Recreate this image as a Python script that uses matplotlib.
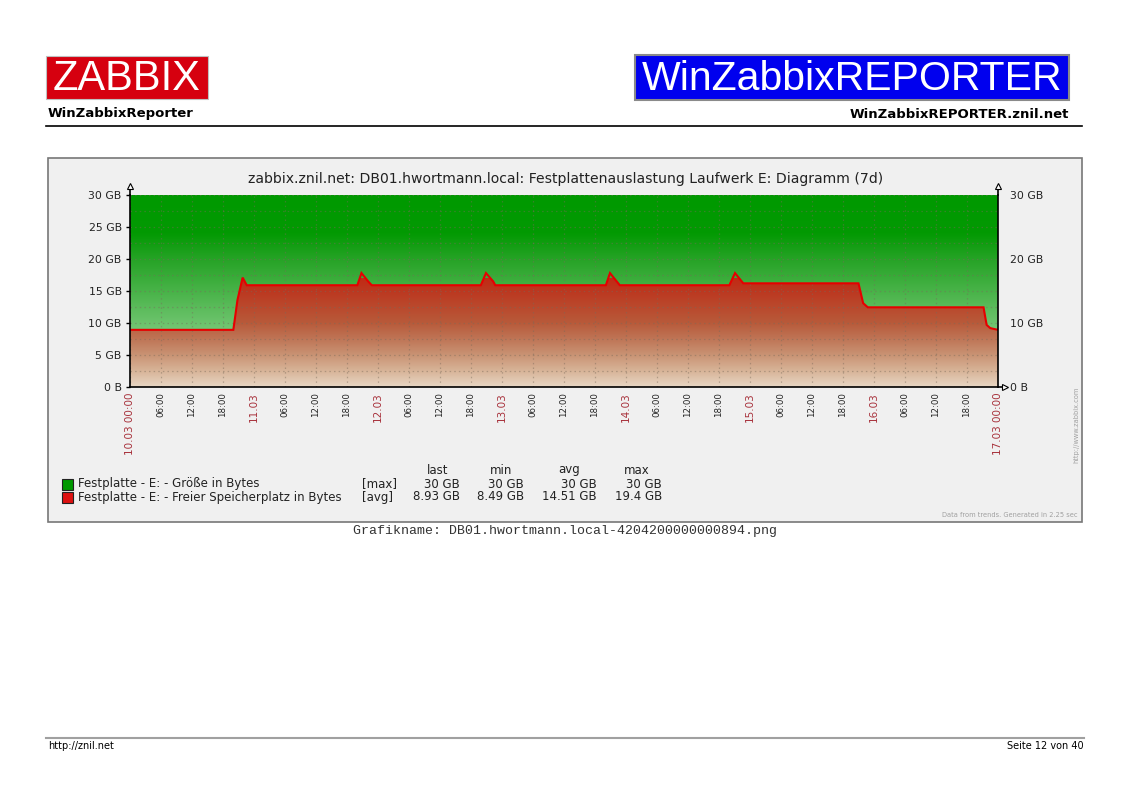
import numpy as np
import matplotlib
matplotlib.use("Agg")
import matplotlib.pyplot as plt
from matplotlib.colors import LinearSegmentedColormap
from matplotlib.patches import Rectangle
from matplotlib.ticker import MultipleLocator

# --- DATA ---
# hours since 10.03 00:00, values in GB
size_hours = [0, 168]
size_gb = [30, 30]

free_hours = [0, 20.0, 20.8, 21.8, 22.6,
              44.0, 44.8, 46.1, 46.8,
              67.9, 68.9, 70.3, 70.7,
              92.1, 92.9, 94.2, 94.8,
              116.0, 117.1, 118.7,
              141.0, 141.9, 142.8,
              165.2, 165.8, 166.5, 168]
free_gb = [8.93, 8.93, 13.6, 17.1, 15.9,
           15.9, 17.8, 16.5, 15.9,
           15.9, 17.8, 16.5, 15.9,
           15.9, 17.8, 16.5, 15.9,
           15.9, 17.8, 16.2,
           16.2, 13.1, 12.45,
           12.45, 9.7, 9.2, 8.93]

day_labels = ["10.03", "11.03", "12.03", "13.03", "14.03", "15.03", "16.03", "17.03"]
hour_labels = ["00:00", "06:00", "12:00", "18:00"]

y_left_ticks = [0, 5, 10, 15, 20, 25, 30]
y_left_labels = ["0 B", "5 GB", "10 GB", "15 GB", "20 GB", "25 GB", "30 GB"]
y_right_ticks = [0, 10, 20, 30]
y_right_labels = ["0 B", "10 GB", "20 GB", "30 GB"]

legend_names = ["Festplatte - E: - Größe in Bytes",
                "Festplatte - E: - Freier Speicherplatz in Bytes"]
legend_func = ["[max]", "[avg]"]
legend_colors = ["#009900", "#dd1111"]
legend_headers = ["last", "min", "avg", "max"]
legend_last = ["30 GB", "8.93 GB"]
legend_min = ["30 GB", "8.49 GB"]
legend_avg = ["30 GB", "14.51 GB"]
legend_max = ["30 GB", "19.4 GB"]

title = "zabbix.znil.net: DB01.hwortmann.local: Festplattenauslastung Laufwerk E: Diagramm (7d)"
graph_name = "Grafikname: DB01.hwortmann.local-4204200000000894.png"

W, H = 1130, 800
fig = plt.figure(figsize=(W / 100, H / 100), dpi=100)
fig.patch.set_facecolor("white")

# page decoration axes in pixel coordinates
bg = fig.add_axes([0, 0, 1, 1])
bg.set_xlim(0, W)
bg.set_ylim(H, 0)
bg.axis("off")

# header
bg.add_patch(Rectangle((46, 56), 162, 43, facecolor="#d6000f", edgecolor="#c0c0c0", lw=0.8))
bg.text(127, 78.5, "ZABBIX", color="white", fontsize=30, family="Liberation Sans",
        ha="center", va="center")
bg.add_patch(Rectangle((635, 55), 434, 45, facecolor="#0000ee", edgecolor="#8a8a8a", lw=1.5))
bg.text(852, 78.5, "WinZabbixREPORTER", color="white", fontsize=29.5, family="Liberation Sans",
        ha="center", va="center")
bg.text(48, 114, "WinZabbixReporter", fontsize=9.5, fontweight="bold", ha="left", va="center")
bg.text(1069, 114, "WinZabbixREPORTER.znil.net", fontsize=9.5, fontweight="bold",
        ha="right", va="center")
bg.plot([46, 1082], [125.5, 125.5], color="black", lw=1.2)

# chart panel
bg.add_patch(Rectangle((48, 158), 1034, 364, facecolor="#f0f0f0", edgecolor="#777777", lw=1.2))
bg.text(566, 179, title, fontsize=10.1, color="#222222", ha="center", va="center")

# legend
row_y = [484, 497]
fs = 8.5
bg.text(448, 470, legend_headers[0], fontsize=fs, ha="right", va="center", color="#222222")
bg.text(512, 470, legend_headers[1], fontsize=fs, ha="right", va="center", color="#222222")
bg.text(580, 470, legend_headers[2], fontsize=fs, ha="right", va="center", color="#222222")
bg.text(650, 470, legend_headers[3], fontsize=fs, ha="right", va="center", color="#222222")
for i in range(2):
    y = row_y[i]
    bg.add_patch(Rectangle((62, y - 5.5), 11, 11, facecolor=legend_colors[i],
                           edgecolor="#222222", lw=0.8))
    bg.text(78, y, legend_names[i], fontsize=fs, ha="left", va="center", color="#222222")
    bg.text(362, y, legend_func[i], fontsize=fs, ha="left", va="center", color="#222222")
    bg.text(460, y, legend_last[i], fontsize=fs, ha="right", va="center", color="#222222")
    bg.text(524, y, legend_min[i], fontsize=fs, ha="right", va="center", color="#222222")
    bg.text(597, y, legend_avg[i], fontsize=fs, ha="right", va="center", color="#222222")
    bg.text(662, y, legend_max[i], fontsize=fs, ha="right", va="center", color="#222222")

bg.text(1077, 515, "Data from trends. Generated in 2.25 sec", fontsize=4.8,
        color="#a0a0a0", ha="right", va="center")
bg.text(1076, 425, "http://www.zabbix.com", fontsize=4.8, color="#a0a0a0",
        rotation=90, ha="center", va="center")

bg.text(565, 531, graph_name, fontsize=9.5, family="Liberation Mono",
        color="#333333", ha="center", va="center")

# footer
bg.plot([46, 1084], [737.5, 737.5], color="#a0a0a0", lw=1.5)
bg.text(48, 746, "http://znil.net", fontsize=7, ha="left", va="center")
bg.text(1084, 746, "Seite 12 von 40", fontsize=7, ha="right", va="center")

# --- GRAPH ---
ax = fig.add_axes([130 / W, (H - 387) / H, 868 / W, 192 / H])
ax.set_xlim(0, 168)
ax.set_ylim(0, 30)
ax.patch.set_visible(False)

# vertical gradients (fixed by height, as zabbix draws them)
green_cmap = LinearSegmentedColormap.from_list(
    "g", [(0.0, "#b4e2b4"), (1 / 6, "#90d390"), (1 / 3, "#6cc36c"), (0.5, "#48b348"),
          (2 / 3, "#26a326"), (0.8, "#039a03"), (1.0, "#009900")])
red_cmap = LinearSegmentedColormap.from_list(
    "r", [(0.0, "#e8d6c4"), (2.5 / 17, "#d8b498"), (5 / 17, "#c99374"), (7.5 / 17, "#bf7556"),
          (10 / 17, "#b85a3a"), (15 / 17, "#bc3820"), (1.0, "#c22a14")])
grad = np.linspace(0, 1, 256).reshape(-1, 1)

size_poly = ax.fill_between(size_hours, 0, size_gb, facecolor="none", edgecolor="none")
im_g = ax.imshow(grad, cmap=green_cmap, aspect="auto", origin="lower",
                 extent=[0, 168, 0, 30], zorder=0.5, interpolation="bilinear")
im_g.set_clip_path(size_poly.get_paths()[0], transform=ax.transData)

free_poly = ax.fill_between(free_hours, 0, free_gb, facecolor="none", edgecolor="none")
im_r = ax.imshow(grad, cmap=red_cmap, aspect="auto", origin="lower",
                 extent=[0, 168, 0, 17], zorder=0.6, interpolation="bilinear")
im_r.set_clip_path(free_poly.get_paths()[0], transform=ax.transData)

ax.plot(free_hours, free_gb, color="#e60000", lw=1.5, zorder=3, solid_joinstyle="miter")

# ticks
xt = list(range(0, 169, 6))
xl = []
for h in xt:
    d, r = divmod(h, 24)
    if h == 0 or h == 168:
        xl.append(day_labels[d] + " " + hour_labels[0])
    elif r == 0:
        xl.append(day_labels[d])
    else:
        xl.append(hour_labels[r // 6])
ax.set_xticks(xt)
ax.set_xticklabels(xl, rotation=90)
for h, lab in zip(xt, ax.get_xticklabels()):
    if h % 24 == 0:
        lab.set_color("#a8323c")
        lab.set_fontsize(7.5)
    else:
        lab.set_color("#222222")
        lab.set_fontsize(6.2)
ax.tick_params(axis="x", length=0, pad=4)

ax.set_yticks(y_left_ticks)
ax.set_yticklabels(y_left_labels, fontsize=7.8, color="#222222")
ax.tick_params(axis="y", length=3, width=1, pad=3)
ax.yaxis.set_minor_locator(MultipleLocator(2.5))
ax.tick_params(axis="y", which="minor", length=0)

ax.set_axisbelow(False)
ax.grid(True, which="major", axis="x", color="#7a6a5a", alpha=0.45, lw=0.9, ls=(0, (1.2, 2.5)))
ax.grid(True, which="both", axis="y", color="#7a6a5a", alpha=0.45, lw=0.9, ls=(0, (1.2, 2.5)))

ax2 = ax.twinx()
ax2.set_ylim(0, 30)
ax2.set_yticks(y_right_ticks)
ax2.set_yticklabels(y_right_labels, fontsize=7.8, color="#222222")
ax2.tick_params(axis="y", length=0, pad=9)
for s in ax2.spines.values():
    s.set_visible(False)

ax.spines["top"].set_visible(False)
for s in ["left", "right", "bottom"]:
    ax.spines[s].set_color("black")
    ax.spines[s].set_linewidth(1.2)
    ax.spines[s].set_zorder(4)

# axis arrows
ax.plot([0, 0], [1, 1.04], color="black", lw=1.2, transform=ax.transAxes, clip_on=False)
ax.plot([1, 1], [1, 1.04], color="black", lw=1.2, transform=ax.transAxes, clip_on=False)
ax.plot([1, 1.008], [0, 0], color="black", lw=1.2, transform=ax.transAxes, clip_on=False)
ax.plot([0], [1.045], marker="^", ms=4.5, mfc="white", mec="black", mew=0.8,
        transform=ax.transAxes, clip_on=False)
ax.plot([1], [1.045], marker="^", ms=4.5, mfc="white", mec="black", mew=0.8,
        transform=ax.transAxes, clip_on=False)
ax.plot([1.008], [0], marker=">", ms=4.5, mfc="white", mec="black", mew=0.8,
        transform=ax.transAxes, clip_on=False)

fig.savefig("out.png", dpi=100, facecolor="white")
